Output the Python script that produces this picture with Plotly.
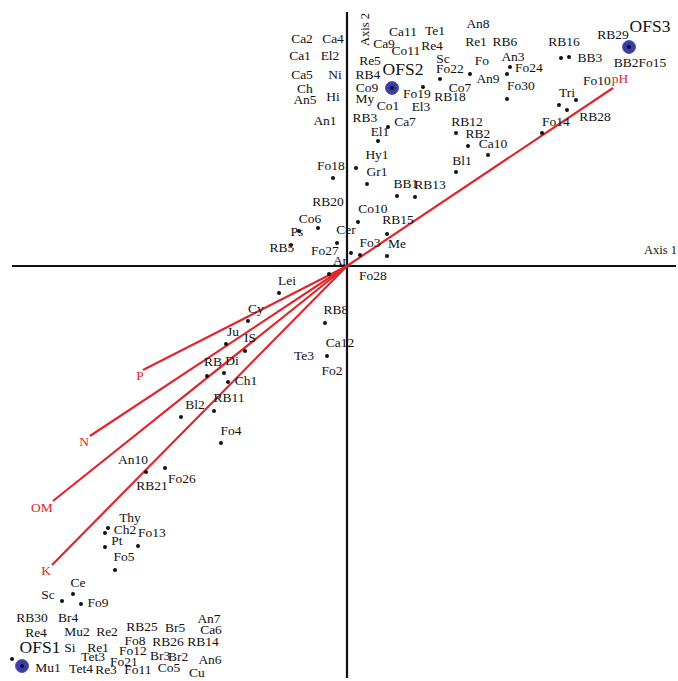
import plotly.graph_objects as go

# ---- Species labels (Axis 1, Axis 2 scores of label anchors) ----
species_names = [
    "Ca2", "Ca4", "Ca1", "El2", "Ca5", "Ni", "Ch", "An5", "Hi", "An1",
    "Re5", "RB4", "Co9", "My", "Co1", "RB3", "Ca7", "El1", "Ca11", "Ca9",
    "Co11", "Te1", "Re4", "Sc", "Fo22", "Co7", "RB18", "Fo19", "El3", "Fo",
    "Re1", "An8", "An9", "RB6", "An3", "Fo24", "Fo30", "RB16", "BB3", "RB29",
    "BB2Fo15", "Fo10", "Tri", "RB28", "Fo14", "RB12", "RB2", "Ca10", "Bl1", "Hy1",
    "Fo18", "Gr1", "BB1", "RB13", "RB20", "Co10", "Co6", "Ps", "Cer", "RB15",
    "RB5", "Fo27", "Fo3", "Me", "Ar", "Fo28", "Lei", "RB8", "Ca12", "Te3",
    "Fo2", "Cy", "Ju", "IS", "RB", "Di", "Ch1", "Bl2", "RB11", "Fo4",
    "An10", "Fo26", "RB21", "Thy", "Ch2", "Fo13", "Pt", "Fo5", "Ce", "Sc",
    "Fo9", "RB30", "Br4", "Re4", "Mu2", "Re2", "RB25", "Br5", "An7", "Ca6",
    "Fo8", "RB26", "RB14", "Si", "Re1", "Fo12", "Tet3", "Fo21", "Br3", "Br2",
    "An6", "Mu1", "Tet4", "Re3", "Fo11", "Co5", "Cu",
]
species_x = [
    -0.45, -0.14, -0.47, -0.17, -0.45, -0.12, -0.42, -0.42, -0.14, -0.22,
    0.23, 0.21, 0.20, 0.18, 0.41, 0.18, 0.58, 0.33, 0.56, 0.37,
    0.59, 0.88, 0.85, 0.96, 1.03, 1.13, 1.03, 0.70, 0.74, 1.35,
    1.29, 1.31, 1.41, 1.58, 1.66, 1.82, 1.74, 2.17, 2.43, 2.66,
    2.93, 2.50, 2.20, 2.48, 2.09, 1.20, 1.31, 1.46, 1.15, 0.30,
    -0.16, 0.30, 0.59, 0.83, -0.19, 0.26, -0.37, -0.50, -0.01, 0.51,
    -0.65, -0.22, 0.23, 0.50, -0.07, 0.26, -0.60, -0.11, -0.07, -0.43,
    -0.15, -0.91, -1.14, -0.97, -1.34, -1.15, -1.01, -1.52, -1.18, -1.16,
    -2.14, -1.65, -1.95, -2.17, -2.22, -1.95, -2.30, -2.23, -2.69, -2.99,
    -2.49, -3.15, -2.79, -3.11, -2.70, -2.40, -2.05, -1.72, -1.38, -1.36,
    -2.12, -1.79, -1.44, -2.77, -2.49, -2.14, -2.54, -2.23, -1.87, -1.69,
    -1.37, -2.99, -2.66, -2.41, -2.09, -1.78, -1.50,
]
species_y = [
    2.26, 2.26, 2.09, 2.09, 1.90, 1.90, 1.76, 1.65, 1.68, 1.44,
    2.04, 1.90, 1.77, 1.66, 1.59, 1.47, 1.43, 1.33, 2.33, 2.21,
    2.14, 2.34, 2.19, 2.06, 1.96, 1.77, 1.68, 1.71, 1.58, 2.04,
    2.23, 2.41, 1.86, 2.23, 2.08, 1.97, 1.79, 2.23, 2.07, 2.30,
    2.02, 1.84, 1.72, 1.48, 1.43, 1.43, 1.31, 1.21, 1.04, 1.10,
    0.99, 0.93, 0.81, 0.80, 0.63, 0.56, 0.46, 0.33, 0.35, 0.45,
    0.17, 0.14, 0.22, 0.21, 0.04, -0.11, -0.16, -0.45, -0.78, -0.91,
    -1.06, -0.44, -0.67, -0.73, -0.97, -0.96, -1.16, -1.40, -1.33, -1.66,
    -1.95, -2.14, -2.21, -2.53, -2.65, -2.68, -2.76, -2.92, -3.18, -3.30,
    -3.38, -3.53, -3.53, -3.68, -3.67, -3.67, -3.62, -3.63, -3.54, -3.65,
    -3.76, -3.77, -3.77, -3.83, -3.83, -3.86, -3.92, -3.97, -3.91, -3.92,
    -3.95, -4.03, -4.04, -4.05, -4.05, -4.03, -4.08,
]

# ---- Species points ----
point_x = [
    0.76, 0.93, 1.23, 1.63, 1.60, 1.60, 2.14, 2.22, 2.12, 2.20,
    2.29, 1.95, 0.41, 0.31, 0.09, 0.20, -0.14, 0.50, 0.68, 1.09,
    1.21, 1.41, 1.09, 0.11, -0.29, -0.48, -0.10, 0.40, -0.56, 0.04,
    0.13, 0.40, -0.18, -0.68, -0.22, -0.20, -0.99, -1.21, -1.02, -1.40,
    -1.23, -1.19, -1.66, -1.33, -1.26, -2.01, -1.82, -2.39, -2.42, -2.09,
    -2.42, -2.32, -2.74, -2.85, -2.66, -3.35,
]
point_y = [
    1.79, 1.87, 1.92, 1.99, 1.92, 1.67, 2.08, 2.09, 1.61, 1.56,
    1.66, 1.33, 1.39, 1.25, 0.98, 0.82, 0.88, 0.70, 0.69, 1.33,
    1.20, 1.11, 0.94, 0.44, 0.38, 0.35, 0.23, 0.32, 0.21, 0.13,
    0.11, 0.10, -0.08, -0.27, -0.57, -0.90, -0.55, -0.78, -0.85, -1.10,
    -1.07, -1.16, -1.51, -1.45, -1.77, -2.06, -2.02, -2.62, -2.67, -2.80,
    -2.81, -3.04, -3.28, -3.35, -3.38, -3.93,
]

# ---- Sites ----
site_names = ["OFS1", "OFS2", "OFS3"]
site_x = [-3.25, 0.45, 2.82]
site_y = [-4.00, 1.78, 2.19]
site_label_x = [-3.07, 0.56, 3.03]
site_label_y = [-3.83, 1.95, 2.38]

# ---- Environmental vectors ----
env_names = ["pH", "P", "N", "OM", "K"]
env_x = [2.66, -2.04, -2.57, -2.94, -2.95]
env_y = [1.78, -1.04, -1.70, -2.35, -2.99]
env_label_x = [2.73, -2.07, -2.63, -3.05, -3.01]
env_label_y = [1.86, -1.11, -1.77, -2.43, -3.06]

RED = "#e0262b"
INK = "#111111"
SERIF = "Liberation Serif, Times New Roman, serif"

fig = go.Figure()

# Environmental arrows from the origin
for ex, ey in zip(env_x, env_y):
    fig.add_trace(go.Scatter(x=[0, ex], y=[0, ey], mode="lines",
                             line=dict(color=RED, width=2.2),
                             hoverinfo="skip", showlegend=False))

fig.add_trace(go.Scatter(x=env_label_x, y=env_label_y, mode="text", text=env_names,
                         textfont=dict(family=SERIF, size=13.5, color=RED),
                         showlegend=False))

# Species points and labels
fig.add_trace(go.Scatter(x=point_x, y=point_y, mode="markers",
                         marker=dict(color=INK, size=4),
                         showlegend=False))
fig.add_trace(go.Scatter(x=species_x, y=species_y, mode="text", text=species_names,
                         textfont=dict(family=SERIF, size=13.5, color=INK),
                         showlegend=False))

# Sites: blue discs with dark centres
fig.add_trace(go.Scatter(x=site_x, y=site_y, mode="markers",
                         marker=dict(color="#3a3aa8", size=13,
                                     line=dict(color="#5a5ac0", width=1)),
                         showlegend=False))
fig.add_trace(go.Scatter(x=site_x, y=site_y, mode="markers",
                         marker=dict(color="#111111", size=4),
                         showlegend=False))
fig.add_trace(go.Scatter(x=site_label_x, y=site_label_y, mode="text", text=site_names,
                         textfont=dict(family=SERIF, size=17.5, color=INK),
                         showlegend=False))

# Cross-shaped ordination axes
fig.add_shape(type="line", x0=-3.35, x1=3.29, y0=0, y1=0,
              line=dict(color=INK, width=2.2), layer="below")
fig.add_shape(type="line", x0=0, x1=0, y0=-4.12, y1=2.54,
              line=dict(color=INK, width=2.2), layer="below")

fig.add_annotation(x=3.13, y=0.16, text="Axis 1", showarrow=False,
                   font=dict(family=SERIF, size=12.5, color=INK))
fig.add_annotation(x=0.18, y=2.36, text="Axis 2", showarrow=False, textangle=-90,
                   font=dict(family=SERIF, size=12.5, color=INK))

fig.update_layout(
    width=678, height=681,
    margin=dict(l=0, r=0, t=0, b=0),
    paper_bgcolor="white", plot_bgcolor="white",
    xaxis=dict(range=[-3.47, 3.31], visible=False, fixedrange=True),
    yaxis=dict(range=[-4.15, 2.66], visible=False, fixedrange=True),
    showlegend=False,
)

fig.write_html("out.html")
